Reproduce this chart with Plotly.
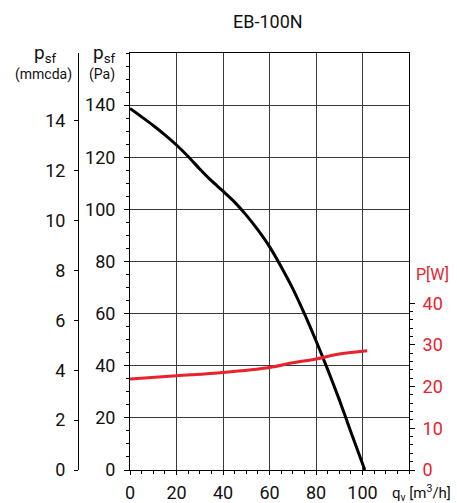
import plotly.graph_objects as go

# ---- data ----
flow = [0, 5, 10, 15, 20, 25, 30, 35, 40, 45, 50, 55, 60, 65, 70, 75, 80, 85, 90, 95, 101]
pressure_pa = [138.7, 135.5, 132.2, 128.6, 124.7, 120.3, 115.5, 111.0, 107.0, 102.8, 97.8, 92.1,
               85.7, 78.0, 69.6, 60.0, 49.6, 38.6, 27.0, 14.6, 0.0]
power_flow = [0, 20, 40, 60, 70, 80, 90, 102]
power_w = [21.8, 22.6, 23.4, 24.6, 25.7, 26.6, 27.8, 28.6]

x_ticks = [0, 20, 40, 60, 80, 100]
pa_ticks = [0, 20, 40, 60, 80, 100, 120, 140]
mmcda_ticks = [0, 2, 4, 6, 8, 10, 12, 14]
w_ticks = [0, 10, 20, 30, 40]
w_minor = [v for v in range(2, 40, 2) if v % 10]
title = "EB-100N"

RED = "#e8232e"
GRID = "#3a3a3a"
FONT = "Roboto"

W, H = 457, 503
ML, MR, MT, MB = 10, 48, 53, 33
PW, PH = W - ML - MR, H - MT - MB


def px(x):
    return (x - ML) / PW


def py(y):
    return (H - MB - y) / PH


fig = go.Figure()
fig.add_trace(go.Scatter(x=flow, y=pressure_pa, mode="lines",
                         line=dict(color="black", width=3, shape="spline", smoothing=0.8),
                         xaxis="x", yaxis="y", showlegend=False, hoverinfo="skip"))
fig.add_trace(go.Scatter(x=power_flow, y=power_w, mode="lines",
                         line=dict(color=RED, width=3, shape="spline", smoothing=1.0),
                         xaxis="x", yaxis="y2", showlegend=False, hoverinfo="skip"))
fig.add_trace(go.Scatter(x=[None], y=[None], xaxis="x", yaxis="y3", showlegend=False))

tickfont = dict(family=FONT, size=18, color="#111")

fig.update_layout(
    width=W, height=H, autosize=False,
    margin=dict(l=ML, r=MR, t=MT, b=MB, pad=0),
    paper_bgcolor="white", plot_bgcolor="white",
    font=dict(family=FONT, color="#111"),
    xaxis=dict(domain=[px(130), 1], range=[0, 120], tickvals=x_ticks, automargin=False,
               showgrid=True, gridcolor=GRID, gridwidth=1,
               showline=True, linecolor="black", linewidth=1, mirror=True,
               ticks="outside", ticklen=4, tickcolor="black",
               minor=dict(dtick=5, tick0=0, ticks="outside", ticklen=3, tickcolor="black", showgrid=False),
               tickfont=tickfont, zeroline=False, fixedrange=True, ticklabelstandoff=2),
    yaxis=dict(range=[0, 160], tickvals=pa_ticks, automargin=False,
               showgrid=True, gridcolor=GRID, gridwidth=1,
               showline=True, linecolor="black", linewidth=1, mirror=True,
               ticks="outside", ticklen=5, tickcolor="black",
               minor=dict(dtick=5, tick0=0, ticks="outside", ticklen=3, tickcolor="black", showgrid=False),
               tickfont=tickfont, zeroline=False, ticklabelstandoff=5),
    yaxis2=dict(range=[0, 100], overlaying="y", side="right", anchor="x", automargin=False,
                tickvals=w_ticks, showgrid=False, zeroline=False,
                showline=False, ticks="outside", ticklen=5, tickcolor="black",
                minor=dict(tickvals=w_minor, ticks="outside", ticklen=3, tickcolor="black", showgrid=False),
                tickfont=dict(family=FONT, size=18, color=RED), ticklabelstandoff=4),
    yaxis3=dict(range=[0, 160 / 9.57], overlaying="y", anchor="free", position=px(78),
                side="left", tickvals=mmcda_ticks, showgrid=False, zeroline=False, automargin=False,
                showline=True, linecolor="black", linewidth=1,
                ticks="outside", ticklen=4, tickcolor="black",
                tickfont=tickfont, ticklabelstandoff=5),
)

ann = [
    dict(text=title, x=px(268), y=py(21), font=dict(size=18)),
    dict(text="p<sub>sf</sub>", x=px(45), y=py(53), font=dict(size=19)),
    dict(text="(mmcda)", x=px(43), y=py(74), font=dict(size=14)),
    dict(text="p<sub>sf</sub>", x=px(104), y=py(53), font=dict(size=19)),
    dict(text="(Pa)", x=px(102), y=py(74), font=dict(size=14)),
    dict(text="P[W]", x=px(432), y=py(274), font=dict(size=16, color=RED)),
    dict(text="q<sub>v</sub> [m<sup>3</sup>/h]", x=px(421), y=py(493), font=dict(size=15)),
]
for a in ann:
    fig.add_annotation(xref="paper", yref="paper", showarrow=False,
                       xanchor="center", yanchor="middle", **a)

fig.write_html("out.html", config={"displayModeBar": False},
               post_script="document.body.style.margin='0';")
